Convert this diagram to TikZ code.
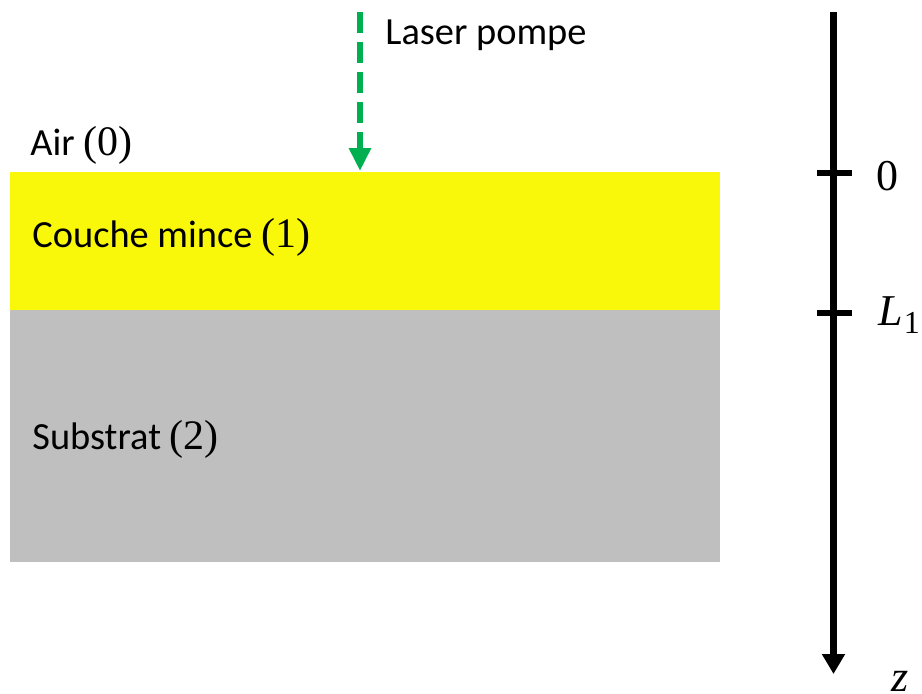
\documentclass[tikz,border=0pt]{standalone}
\usepackage{fontspec}
\setsansfont{Carlito}
\setmainfont{Liberation Serif}
\usetikzlibrary{arrows.meta}
\definecolor{layeryellow}{HTML}{FAF80A}
\definecolor{layergray}{HTML}{BFBFBF}
\definecolor{lasergreen}{HTML}{00B050}
\newcommand{\parsz}{\rmfamily\fontsize{21}{24}\selectfont}
\tikzset{
  lbl/.style={inner sep=0pt, anchor=base west, font=\sffamily\fontsize{19.2}{23}\selectfont},
  axlbl/.style={inner sep=0pt, anchor=base west, font=\rmfamily\fontsize{22}{26}\selectfont},
  axisline/.style={line width=3.5pt, -{Triangle[width=11pt,length=10pt]}},
  tickline/.style={line width=3pt},
  laser/.style={lasergreen, line width=3.3pt, dash pattern=on 10.5pt off 4.5pt, -{Triangle[width=10.5pt,length=11.5pt]}}
}
\begin{document}
\begin{tikzpicture}[x=0.5pt,y=-0.5pt]
\useasboundingbox (0,0) rectangle (922,693);
% layers
\fill[layeryellow] (10,172) rectangle (720,309.5);
\fill[layergray] (10,309.5) rectangle (720,562);
% labels
\node[lbl] (air) at (30,155) {Air {\parsz(0)}};
\node[lbl] (couche) at (32,247) {Couche mince {\parsz(1)}};
\node[lbl] (substrat) at (32,449.5) {Substrat {\parsz(2)}};
\node[lbl] (laserlbl) at (385,44) {Laser pompe};
% laser arrow
\coordinate (lstart) at (360,12);
\coordinate (lend) at (360,171);
\draw[laser] (lstart) -- (lend);
% axis
\coordinate (atop) at (833.5,12);
\coordinate (abot) at (833.5,674);
\draw[axisline] (atop) -- (abot);
\coordinate (t0a) at (817,172.5);
\coordinate (t0b) at (852,172.5);
\coordinate (t1a) at (817,312.5);
\coordinate (t1b) at (852,312.5);
\draw[tickline] (t0a) -- (t0b);
\draw[tickline] (t1a) -- (t1b);
\node[axlbl] (zero) at (876,190) {0};
\node[axlbl] (lone) at (878,325) {\itshape L\kern0.5pt\raisebox{-4pt}{\upshape\fontsize{16}{18}\selectfont 1}};
\node[axlbl] (zed) at (891,691) {\itshape z};
\end{tikzpicture}
\end{document}
